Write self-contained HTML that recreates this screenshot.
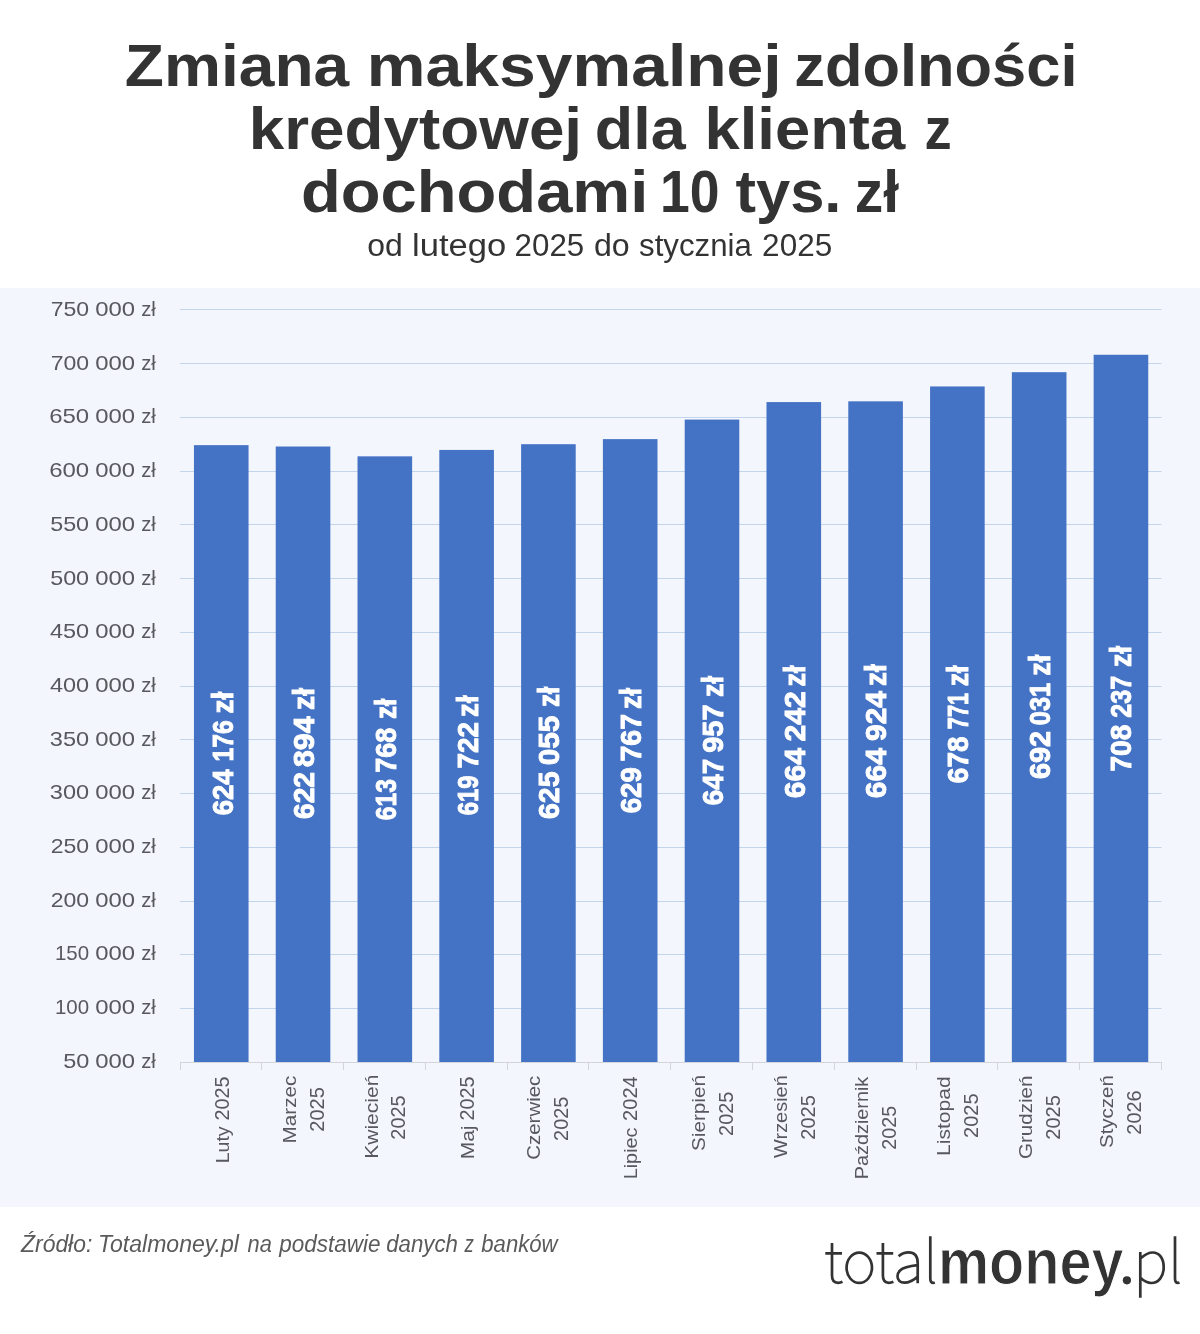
<!DOCTYPE html>
<html lang="pl"><head><meta charset="utf-8"><title>Zmiana maksymalnej zdolności kredytowej</title>
<style>html,body{margin:0;padding:0;background:#fff}body{width:1200px;height:1334px;overflow:hidden}svg{display:block;will-change:transform}text{font-family:"Liberation Sans",sans-serif}.t{font-weight:bold;font-size:59.5px;fill:#333}.s{font-size:31px;fill:#333}.y{font-size:20.8px;fill:#57595e}.x{font-size:18.9px;fill:#57595e}.xd{font-size:19.5px;fill:#57595e}.v{font-weight:bold;font-size:29px;fill:#fff;stroke:#fff;stroke-width:.9px}.src{font-style:italic;font-size:23px;fill:#5a5a5a}.lb{font-weight:bold;font-size:65.5px;fill:#333;stroke:#fff;stroke-width:1.1px}.lg{fill:none;stroke:#333;stroke-width:2.7px;stroke-linecap:butt;stroke-linejoin:round}</style></head><body>
<svg width="1200" height="1334" viewBox="0 0 1200 1334">
<rect x="0" y="0" width="1200" height="1334" fill="#fff"/>
<rect x="0" y="288" width="1200" height="919" fill="#F3F6FC"/>
<rect x="180" y="309" width="981.5" height="1" fill="#C3D5EA"/>
<rect x="180" y="363" width="981.5" height="1" fill="#C3D5EA"/>
<rect x="180" y="417" width="981.5" height="1" fill="#C3D5EA"/>
<rect x="180" y="471" width="981.5" height="1" fill="#C3D5EA"/>
<rect x="180" y="524" width="981.5" height="1" fill="#C3D5EA"/>
<rect x="180" y="578" width="981.5" height="1" fill="#C3D5EA"/>
<rect x="180" y="632" width="981.5" height="1" fill="#C3D5EA"/>
<rect x="180" y="686" width="981.5" height="1" fill="#C3D5EA"/>
<rect x="180" y="739" width="981.5" height="1" fill="#C3D5EA"/>
<rect x="180" y="793" width="981.5" height="1" fill="#C3D5EA"/>
<rect x="180" y="847" width="981.5" height="1" fill="#C3D5EA"/>
<rect x="180" y="901" width="981.5" height="1" fill="#C3D5EA"/>
<rect x="180" y="954" width="981.5" height="1" fill="#C3D5EA"/>
<rect x="180" y="1008" width="981.5" height="1" fill="#C3D5EA"/>
<rect x="193.95" y="445.15" width="54.6" height="616.85" fill="#4472C4"/>
<rect x="275.74" y="446.52" width="54.6" height="615.48" fill="#4472C4"/>
<rect x="357.53" y="456.34" width="54.6" height="605.66" fill="#4472C4"/>
<rect x="439.32" y="449.93" width="54.6" height="612.07" fill="#4472C4"/>
<rect x="521.11" y="444.20" width="54.6" height="617.80" fill="#4472C4"/>
<rect x="602.90" y="439.13" width="54.6" height="622.87" fill="#4472C4"/>
<rect x="684.70" y="419.58" width="54.6" height="642.42" fill="#4472C4"/>
<rect x="766.49" y="402.07" width="54.6" height="659.93" fill="#4472C4"/>
<rect x="848.28" y="401.33" width="54.6" height="660.67" fill="#4472C4"/>
<rect x="930.07" y="386.45" width="54.6" height="675.55" fill="#4472C4"/>
<rect x="1011.86" y="372.19" width="54.6" height="689.81" fill="#4472C4"/>
<rect x="1093.65" y="354.76" width="54.6" height="707.24" fill="#4472C4"/>
<rect x="180" y="1062" width="981.5" height="1" fill="#D3D5DB"/>
<rect x="180" y="1062" width="1" height="8" fill="#D3D5DB"/>
<rect x="261" y="1062" width="1" height="8" fill="#D3D5DB"/>
<rect x="343" y="1062" width="1" height="8" fill="#D3D5DB"/>
<rect x="425" y="1062" width="1" height="8" fill="#D3D5DB"/>
<rect x="507" y="1062" width="1" height="8" fill="#D3D5DB"/>
<rect x="588" y="1062" width="1" height="8" fill="#D3D5DB"/>
<rect x="670" y="1062" width="1" height="8" fill="#D3D5DB"/>
<rect x="752" y="1062" width="1" height="8" fill="#D3D5DB"/>
<rect x="834" y="1062" width="1" height="8" fill="#D3D5DB"/>
<rect x="916" y="1062" width="1" height="8" fill="#D3D5DB"/>
<rect x="997" y="1062" width="1" height="8" fill="#D3D5DB"/>
<rect x="1079" y="1062" width="1" height="8" fill="#D3D5DB"/>
<rect x="1161" y="1062" width="1" height="8" fill="#D3D5DB"/>
<text class="t" x="124.85" y="86.30" textLength="224.41" lengthAdjust="spacingAndGlyphs">Zmiana</text>
<text class="t" x="366.86" y="86.30" textLength="414.82" lengthAdjust="spacingAndGlyphs">maksymalnej</text>
<text class="t" x="794.19" y="86.30" textLength="283.27" lengthAdjust="spacingAndGlyphs">zdolności</text>
<text class="t" x="248.71" y="148.80" textLength="333.41" lengthAdjust="spacingAndGlyphs">kredytowej</text>
<text class="t" x="594.89" y="148.80" textLength="90.84" lengthAdjust="spacingAndGlyphs">dla</text>
<text class="t" x="704.49" y="148.80" textLength="200.73" lengthAdjust="spacingAndGlyphs">klienta</text>
<text class="t" x="924.42" y="148.80" textLength="27.18" lengthAdjust="spacingAndGlyphs">z</text>
<text class="t" x="301.06" y="212.00" textLength="347.32" lengthAdjust="spacingAndGlyphs">dochodami</text>
<text class="t" x="659.93" y="212.00" textLength="59.54" lengthAdjust="spacingAndGlyphs">10</text>
<text class="t" x="735.45" y="212.00" textLength="105.99" lengthAdjust="spacingAndGlyphs">tys.</text>
<text class="t" x="854.79" y="212.00" textLength="44.28" lengthAdjust="spacingAndGlyphs">zł</text>
<text class="s" x="367.24" y="256.00" textLength="35.54" lengthAdjust="spacingAndGlyphs">od</text>
<text class="s" x="412.10" y="256.00" textLength="94.21" lengthAdjust="spacingAndGlyphs">lutego</text>
<text class="s" x="514.64" y="256.00" textLength="69.55" lengthAdjust="spacingAndGlyphs">2025</text>
<text class="s" x="594.00" y="256.00" textLength="35.74" lengthAdjust="spacingAndGlyphs">do</text>
<text class="s" x="639.06" y="256.00" textLength="112.77" lengthAdjust="spacingAndGlyphs">stycznia</text>
<text class="s" x="762.13" y="256.00" textLength="70.07" lengthAdjust="spacingAndGlyphs">2025</text>
<text class="y" x="50.69" y="316.00" textLength="38.43" lengthAdjust="spacingAndGlyphs">750</text>
<text class="y" x="95.29" y="316.00" textLength="39.85" lengthAdjust="spacingAndGlyphs">000</text>
<text class="y" x="141.22" y="316.00" textLength="14.67" lengthAdjust="spacingAndGlyphs">zł</text>
<text class="y" x="50.69" y="369.70" textLength="38.43" lengthAdjust="spacingAndGlyphs">700</text>
<text class="y" x="95.29" y="369.70" textLength="39.85" lengthAdjust="spacingAndGlyphs">000</text>
<text class="y" x="141.22" y="369.70" textLength="14.67" lengthAdjust="spacingAndGlyphs">zł</text>
<text class="y" x="49.15" y="423.40" textLength="39.99" lengthAdjust="spacingAndGlyphs">650</text>
<text class="y" x="95.29" y="423.40" textLength="39.85" lengthAdjust="spacingAndGlyphs">000</text>
<text class="y" x="141.22" y="423.40" textLength="14.67" lengthAdjust="spacingAndGlyphs">zł</text>
<text class="y" x="49.15" y="477.10" textLength="39.99" lengthAdjust="spacingAndGlyphs">600</text>
<text class="y" x="95.29" y="477.10" textLength="39.85" lengthAdjust="spacingAndGlyphs">000</text>
<text class="y" x="141.22" y="477.10" textLength="14.67" lengthAdjust="spacingAndGlyphs">zł</text>
<text class="y" x="50.17" y="530.80" textLength="38.95" lengthAdjust="spacingAndGlyphs">550</text>
<text class="y" x="95.29" y="530.80" textLength="39.85" lengthAdjust="spacingAndGlyphs">000</text>
<text class="y" x="141.22" y="530.80" textLength="14.67" lengthAdjust="spacingAndGlyphs">zł</text>
<text class="y" x="50.17" y="584.50" textLength="38.95" lengthAdjust="spacingAndGlyphs">500</text>
<text class="y" x="95.29" y="584.50" textLength="39.85" lengthAdjust="spacingAndGlyphs">000</text>
<text class="y" x="141.22" y="584.50" textLength="14.67" lengthAdjust="spacingAndGlyphs">zł</text>
<text class="y" x="49.93" y="638.20" textLength="39.20" lengthAdjust="spacingAndGlyphs">450</text>
<text class="y" x="95.29" y="638.20" textLength="39.85" lengthAdjust="spacingAndGlyphs">000</text>
<text class="y" x="141.22" y="638.20" textLength="14.67" lengthAdjust="spacingAndGlyphs">zł</text>
<text class="y" x="49.93" y="691.90" textLength="39.20" lengthAdjust="spacingAndGlyphs">400</text>
<text class="y" x="95.29" y="691.90" textLength="39.85" lengthAdjust="spacingAndGlyphs">000</text>
<text class="y" x="141.22" y="691.90" textLength="14.67" lengthAdjust="spacingAndGlyphs">zł</text>
<text class="y" x="49.83" y="745.60" textLength="39.30" lengthAdjust="spacingAndGlyphs">350</text>
<text class="y" x="95.29" y="745.60" textLength="39.85" lengthAdjust="spacingAndGlyphs">000</text>
<text class="y" x="141.22" y="745.60" textLength="14.67" lengthAdjust="spacingAndGlyphs">zł</text>
<text class="y" x="49.83" y="799.30" textLength="39.30" lengthAdjust="spacingAndGlyphs">300</text>
<text class="y" x="95.29" y="799.30" textLength="39.85" lengthAdjust="spacingAndGlyphs">000</text>
<text class="y" x="141.22" y="799.30" textLength="14.67" lengthAdjust="spacingAndGlyphs">zł</text>
<text class="y" x="50.69" y="853.00" textLength="38.42" lengthAdjust="spacingAndGlyphs">250</text>
<text class="y" x="95.29" y="853.00" textLength="39.85" lengthAdjust="spacingAndGlyphs">000</text>
<text class="y" x="141.22" y="853.00" textLength="14.67" lengthAdjust="spacingAndGlyphs">zł</text>
<text class="y" x="50.69" y="906.70" textLength="38.42" lengthAdjust="spacingAndGlyphs">200</text>
<text class="y" x="95.29" y="906.70" textLength="39.85" lengthAdjust="spacingAndGlyphs">000</text>
<text class="y" x="141.22" y="906.70" textLength="14.67" lengthAdjust="spacingAndGlyphs">zł</text>
<text class="y" x="54.92" y="960.40" textLength="34.13" lengthAdjust="spacingAndGlyphs">150</text>
<text class="y" x="95.29" y="960.40" textLength="39.85" lengthAdjust="spacingAndGlyphs">000</text>
<text class="y" x="141.22" y="960.40" textLength="14.67" lengthAdjust="spacingAndGlyphs">zł</text>
<text class="y" x="54.92" y="1014.10" textLength="34.13" lengthAdjust="spacingAndGlyphs">100</text>
<text class="y" x="95.29" y="1014.10" textLength="39.85" lengthAdjust="spacingAndGlyphs">000</text>
<text class="y" x="141.22" y="1014.10" textLength="14.67" lengthAdjust="spacingAndGlyphs">zł</text>
<text class="y" x="63.27" y="1067.80" textLength="26.14" lengthAdjust="spacingAndGlyphs">50</text>
<text class="y" x="95.29" y="1067.80" textLength="39.85" lengthAdjust="spacingAndGlyphs">000</text>
<text class="y" x="141.22" y="1067.80" textLength="14.67" lengthAdjust="spacingAndGlyphs">zł</text>
<text class="v" transform="translate(233.40 815.27) rotate(-90)" textLength="45.92" lengthAdjust="spacingAndGlyphs">624</text>
<text class="v" transform="translate(233.40 761.52) rotate(-90)" textLength="41.12" lengthAdjust="spacingAndGlyphs">176</text>
<text class="v" transform="translate(233.40 713.40) rotate(-90)" textLength="21.63" lengthAdjust="spacingAndGlyphs">zł</text>
<text class="v" transform="translate(314.40 818.99) rotate(-90)" textLength="46.91" lengthAdjust="spacingAndGlyphs">622</text>
<text class="v" transform="translate(314.40 767.15) rotate(-90)" textLength="50.96" lengthAdjust="spacingAndGlyphs">894</text>
<text class="v" transform="translate(314.40 709.91) rotate(-90)" textLength="21.95" lengthAdjust="spacingAndGlyphs">zł</text>
<text class="v" transform="translate(396.25 820.17) rotate(-90)" textLength="41.02" lengthAdjust="spacingAndGlyphs">613</text>
<text class="v" transform="translate(396.25 772.80) rotate(-90)" textLength="45.05" lengthAdjust="spacingAndGlyphs">768</text>
<text class="v" transform="translate(396.25 718.94) rotate(-90)" textLength="20.32" lengthAdjust="spacingAndGlyphs">zł</text>
<text class="v" transform="translate(478.10 815.15) rotate(-90)" textLength="39.73" lengthAdjust="spacingAndGlyphs">619</text>
<text class="v" transform="translate(478.10 768.42) rotate(-90)" textLength="46.34" lengthAdjust="spacingAndGlyphs">722</text>
<text class="v" transform="translate(478.10 716.89) rotate(-90)" textLength="21.42" lengthAdjust="spacingAndGlyphs">zł</text>
<text class="v" transform="translate(559.00 819.00) rotate(-90)" textLength="47.46" lengthAdjust="spacingAndGlyphs">625</text>
<text class="v" transform="translate(559.00 765.36) rotate(-90)" textLength="49.49" lengthAdjust="spacingAndGlyphs">055</text>
<text class="v" transform="translate(559.00 707.09) rotate(-90)" textLength="20.32" lengthAdjust="spacingAndGlyphs">zł</text>
<text class="v" transform="translate(641.00 813.37) rotate(-90)" textLength="46.23" lengthAdjust="spacingAndGlyphs">629</text>
<text class="v" transform="translate(641.00 761.55) rotate(-90)" textLength="47.68" lengthAdjust="spacingAndGlyphs">767</text>
<text class="v" transform="translate(641.00 708.97) rotate(-90)" textLength="21.00" lengthAdjust="spacingAndGlyphs">zł</text>
<text class="v" transform="translate(723.10 805.28) rotate(-90)" textLength="46.37" lengthAdjust="spacingAndGlyphs">647</text>
<text class="v" transform="translate(723.10 752.81) rotate(-90)" textLength="48.35" lengthAdjust="spacingAndGlyphs">957</text>
<text class="v" transform="translate(723.10 697.12) rotate(-90)" textLength="21.00" lengthAdjust="spacingAndGlyphs">zł</text>
<text class="v" transform="translate(805.00 798.20) rotate(-90)" textLength="50.16" lengthAdjust="spacingAndGlyphs">664</text>
<text class="v" transform="translate(805.00 741.54) rotate(-90)" textLength="50.13" lengthAdjust="spacingAndGlyphs">242</text>
<text class="v" transform="translate(805.00 686.47) rotate(-90)" textLength="21.00" lengthAdjust="spacingAndGlyphs">zł</text>
<text class="v" transform="translate(886.25 798.20) rotate(-90)" textLength="50.16" lengthAdjust="spacingAndGlyphs">664</text>
<text class="v" transform="translate(886.25 740.93) rotate(-90)" textLength="49.74" lengthAdjust="spacingAndGlyphs">924</text>
<text class="v" transform="translate(886.25 685.90) rotate(-90)" textLength="21.63" lengthAdjust="spacingAndGlyphs">zł</text>
<text class="v" transform="translate(968.10 783.13) rotate(-90)" textLength="46.60" lengthAdjust="spacingAndGlyphs">678</text>
<text class="v" transform="translate(968.10 729.23) rotate(-90)" textLength="36.40" lengthAdjust="spacingAndGlyphs">771</text>
<text class="v" transform="translate(968.10 686.26) rotate(-90)" textLength="20.79" lengthAdjust="spacingAndGlyphs">zł</text>
<text class="v" transform="translate(1049.75 779.01) rotate(-90)" textLength="48.16" lengthAdjust="spacingAndGlyphs">692</text>
<text class="v" transform="translate(1049.75 725.22) rotate(-90)" textLength="42.45" lengthAdjust="spacingAndGlyphs">031</text>
<text class="v" transform="translate(1049.75 675.87) rotate(-90)" textLength="21.00" lengthAdjust="spacingAndGlyphs">zł</text>
<text class="v" transform="translate(1131.00 771.54) rotate(-90)" textLength="46.91" lengthAdjust="spacingAndGlyphs">708</text>
<text class="v" transform="translate(1131.00 717.68) rotate(-90)" textLength="41.77" lengthAdjust="spacingAndGlyphs">237</text>
<text class="v" transform="translate(1131.00 667.12) rotate(-90)" textLength="21.00" lengthAdjust="spacingAndGlyphs">zł</text>
<text class="x" transform="translate(229.00 1163.33) rotate(-90)" textLength="36.93" lengthAdjust="spacingAndGlyphs">Luty</text>
<text class="xd" transform="translate(229.00 1120.60) rotate(-90)" textLength="43.99" lengthAdjust="spacingAndGlyphs">2025</text>
<text class="x" transform="translate(296.20 1143.48) rotate(-90)" textLength="67.82" lengthAdjust="spacingAndGlyphs">Marzec</text>
<text class="xd" transform="translate(324.20 1131.66) rotate(-90)" textLength="44.55" lengthAdjust="spacingAndGlyphs">2025</text>
<text class="x" transform="translate(377.95 1158.75) rotate(-90)" textLength="84.09" lengthAdjust="spacingAndGlyphs">Kwiecień</text>
<text class="xd" transform="translate(405.45 1139.65) rotate(-90)" textLength="44.30" lengthAdjust="spacingAndGlyphs">2025</text>
<text class="x" transform="translate(473.90 1159.35) rotate(-90)" textLength="33.84" lengthAdjust="spacingAndGlyphs">Maj</text>
<text class="xd" transform="translate(473.90 1120.60) rotate(-90)" textLength="43.99" lengthAdjust="spacingAndGlyphs">2025</text>
<text class="x" transform="translate(540.45 1159.70) rotate(-90)" textLength="83.97" lengthAdjust="spacingAndGlyphs">Czerwiec</text>
<text class="xd" transform="translate(568.45 1140.90) rotate(-90)" textLength="44.30" lengthAdjust="spacingAndGlyphs">2025</text>
<text class="x" transform="translate(636.90 1179.36) rotate(-90)" textLength="51.86" lengthAdjust="spacingAndGlyphs">Lipiec</text>
<text class="xd" transform="translate(636.90 1120.91) rotate(-90)" textLength="44.64" lengthAdjust="spacingAndGlyphs">2024</text>
<text class="x" transform="translate(704.95 1151.02) rotate(-90)" textLength="75.98" lengthAdjust="spacingAndGlyphs">Sierpień</text>
<text class="xd" transform="translate(732.95 1135.90) rotate(-90)" textLength="44.30" lengthAdjust="spacingAndGlyphs">2025</text>
<text class="x" transform="translate(786.70 1157.96) rotate(-90)" textLength="82.74" lengthAdjust="spacingAndGlyphs">Wrzesień</text>
<text class="xd" transform="translate(814.70 1139.66) rotate(-90)" textLength="44.55" lengthAdjust="spacingAndGlyphs">2025</text>
<text class="x" transform="translate(867.95 1179.15) rotate(-90)" textLength="102.37" lengthAdjust="spacingAndGlyphs">Październik</text>
<text class="xd" transform="translate(895.95 1149.64) rotate(-90)" textLength="43.78" lengthAdjust="spacingAndGlyphs">2025</text>
<text class="x" transform="translate(950.45 1156.01) rotate(-90)" textLength="79.69" lengthAdjust="spacingAndGlyphs">Listopad</text>
<text class="xd" transform="translate(978.45 1137.91) rotate(-90)" textLength="44.55" lengthAdjust="spacingAndGlyphs">2025</text>
<text class="x" transform="translate(1031.70 1158.96) rotate(-90)" textLength="83.40" lengthAdjust="spacingAndGlyphs">Grudzień</text>
<text class="xd" transform="translate(1059.70 1139.66) rotate(-90)" textLength="44.55" lengthAdjust="spacingAndGlyphs">2025</text>
<text class="x" transform="translate(1112.70 1148.01) rotate(-90)" textLength="72.83" lengthAdjust="spacingAndGlyphs">Styczeń</text>
<text class="xd" transform="translate(1140.95 1134.65) rotate(-90)" textLength="44.30" lengthAdjust="spacingAndGlyphs">2026</text>
<text class="src" x="21.09" y="1251.80" textLength="71.22" lengthAdjust="spacingAndGlyphs">Źródło:</text>
<text class="src" x="98.04" y="1251.80" textLength="140.92" lengthAdjust="spacingAndGlyphs">Totalmoney.pl</text>
<text class="src" x="247.51" y="1251.80" textLength="24.29" lengthAdjust="spacingAndGlyphs">na</text>
<text class="src" x="279.21" y="1251.80" textLength="101.32" lengthAdjust="spacingAndGlyphs">podstawie</text>
<text class="src" x="386.26" y="1251.80" textLength="71.73" lengthAdjust="spacingAndGlyphs">danych</text>
<text class="src" x="464.62" y="1251.80" textLength="9.33" lengthAdjust="spacingAndGlyphs">z</text>
<text class="src" x="481.26" y="1251.80" textLength="76.36" lengthAdjust="spacingAndGlyphs">banków</text>
<text class="lb" x="937.94" y="1284.30" textLength="185.52" lengthAdjust="spacingAndGlyphs">money</text>
<g class="lg"><path d="M832,1243 V1275.5 C832,1280.5 834.5,1282.8 838,1282.8 C839.8,1282.8 841.2,1282.4 842.5,1281.8 M825.3,1253.3 H842"/><ellipse cx="859.27" cy="1267.75" rx="12.7" ry="15.2"/><path d="M882.9,1243 V1275.5 C882.9,1280.5 885.4,1282.8 888.9,1282.8 C890.7,1282.8 892.1,1282.4 893.4,1281.8 M876.5,1253.3 H893.2"/><path d="M898.6,1256.2 C901.5,1253.8 905,1252.4 908.6,1252.4 C915,1252.4 917.7,1256.5 917.7,1263 V1283.3 M917.7,1265.2 C910,1266 903,1267.5 900,1270.5 C897.5,1273 897.5,1275 897.5,1276.3 C897.5,1280.2 900.3,1282.7 904.3,1282.7 C909,1282.7 913.5,1280.5 917.7,1276.5"/><path d="M930.3,1236.3 V1278.5 C930.3,1281.5 931.5,1282.9 933.2,1282.9 C933.8,1282.9 934.3,1282.8 934.8,1282.6"/><path d="M1140.3,1252 V1297.7 M1141,1258 C1144.5,1255 1148.5,1252.5 1152.7,1252.5 C1159.5,1252.5 1163.7,1258.5 1163.7,1267.3 C1163.7,1276.5 1158.5,1283 1151.3,1283 C1147.5,1283 1144,1281 1141,1278.3"/><path d="M1175,1236.3 V1278.5 C1175,1281.5 1176.2,1282.9 1177.9,1282.9 C1178.5,1282.9 1179,1282.8 1179.5,1282.6"/></g><circle cx="1126.9" cy="1280.3" r="4.1" fill="#333"/>
</svg></body></html>
